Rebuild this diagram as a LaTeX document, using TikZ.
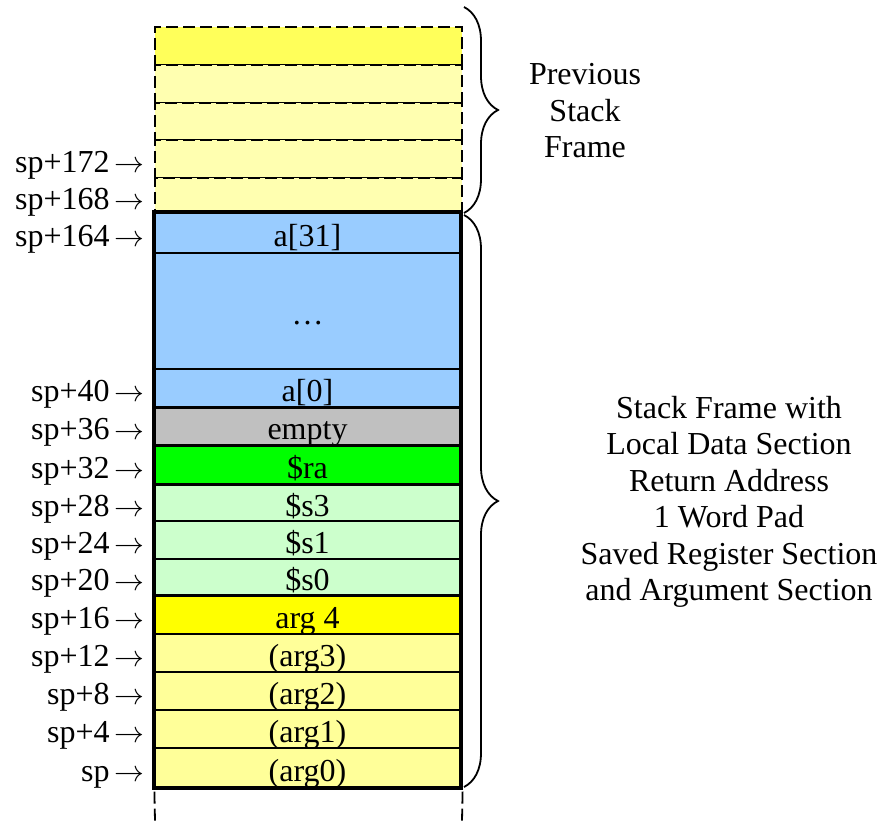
\documentclass[tikz,border=0pt]{standalone}
\usepackage{fontspec}
\setmainfont{Liberation Serif}
\usetikzlibrary{decorations.pathreplacing}
\definecolor{cblue}{HTML}{99CCFF}
\definecolor{cgray}{HTML}{C0C0C0}
\definecolor{cgreen}{HTML}{00FF00}
\definecolor{clgreen}{HTML}{CCFFCC}
\definecolor{cyel}{HTML}{FFFF00}
\definecolor{clyel}{HTML}{FFFF99}
\definecolor{ptop}{HTML}{FFFF5A}
\definecolor{prow}{HTML}{FFFFB0}
\newcommand{\arw}{\,\scalebox{1.2}{$\rightarrow$}}
\begin{document}
\begin{tikzpicture}[x=1pt,y=-1pt,
  bigfont/.style={font=\fontsize{32}{36.5}\selectfont},
  cell/.style={bigfont, draw=black, line width=1.2pt, minimum width=305pt, inner sep=0pt, text height=27pt, text depth=0pt},
  prevcell/.style={draw=black, line width=1.8pt, dash pattern=on 12pt off 5pt, minimum width=307pt, inner sep=0pt},
  lab/.style={bigfont, anchor=east, inner sep=0pt, text height=27pt, text depth=0pt},
  sep/.style={line width=3pt},
  dashline/.style={line width=1.8pt, dash pattern=on 12pt off 5pt},
  bracestyle/.style={decorate, decoration={brace, amplitude=34pt}, line width=1.8pt}
]
\useasboundingbox (0,0) rectangle (883,821);
% previous stack frame
\node[prevcell, fill=ptop, minimum height=38pt] (p1) at (308.5,46) {};
\node[prevcell, fill=prow, minimum height=38pt] (p2) at (308.5,84) {};
\node[prevcell, fill=prow, minimum height=37pt] (p3) at (308.5,121.5) {};
\node[prevcell, fill=prow, minimum height=38pt] (p4) at (308.5,159) {};
\node[prevcell, fill=prow, minimum height=35pt] (p5) at (308.5,195.5) {};
% current frame cells
\node[cell, fill=cblue, minimum height=40pt] (a31) at (307.5,233) {a[31]};
\node[cell, fill=cblue, minimum height=116pt] (dots) at (307.5,311) {\dots};
\node[cell, fill=cblue, minimum height=38pt] (a0) at (307.5,388) {a[0]};
\node[cell, fill=cgray, minimum height=38pt] (empty) at (307.5,426) {empty};
\node[cell, fill=cgreen, minimum height=39pt] (ra) at (307.5,464.5) {\$ra};
\node[cell, fill=clgreen, minimum height=37pt] (s3) at (307.5,502.5) {\$s3};
\node[cell, fill=clgreen, minimum height=38pt] (s1) at (307.5,540) {\$s1};
\node[cell, fill=clgreen, minimum height=36pt] (s0) at (307.5,577) {\$s0};
\node[cell, fill=cyel, minimum height=39pt] (arg4) at (307.5,614.5) {arg 4};
\node[cell, fill=clyel, minimum height=38pt] (arg3) at (307.5,653) {(arg3)};
\node[cell, fill=clyel, minimum height=38pt] (arg2) at (307.5,691) {(arg2)};
\node[cell, fill=clyel, minimum height=38pt] (arg1) at (307.5,729) {(arg1)};
\node[cell, fill=clyel, minimum height=39pt] (arg0) at (307.5,767.5) {(arg0)};
% thick separators and frame
\draw[sep] (a0.south west) -- (a0.south east);
\draw[sep] (empty.south west) -- (empty.south east);
\draw[sep] (ra.south west) -- (ra.south east);
\draw[sep] (s0.south west) -- (s0.south east);
\draw[line width=4pt] (a31.north west) rectangle (arg0.south east);
% dashed continuation below
\coordinate (bl) at (155,821);
\coordinate (br) at (462,821);
\draw[dashline] ([yshift=-4pt]arg0.south west) -- (bl);
\draw[dashline] ([xshift=2pt,yshift=-4pt]arg0.south east) -- (br);
% address labels
\node[lab] (l172) at (145,159) {sp+172\arw};
\node[lab] (l168) at (145,195.5) {sp+168\arw};
\node[lab] (l164) at (145,233) {sp+164\arw};
\node[lab] (l40) at (145,388) {sp+40\arw};
\node[lab] (l36) at (145,426) {sp+36\arw};
\node[lab] (l32) at (145,464.5) {sp+32\arw};
\node[lab] (l28) at (145,502.5) {sp+28\arw};
\node[lab] (l24) at (145,540) {sp+24\arw};
\node[lab] (l20) at (145,577) {sp+20\arw};
\node[lab] (l16) at (145,614.5) {sp+16\arw};
\node[lab] (l12) at (145,653) {sp+12\arw};
\node[lab] (l8) at (145,691) {sp+8\arw};
\node[lab] (l4) at (145,729) {sp+4\arw};
\node[lab] (l0) at (145,767.5) {sp\arw};
% braces
\coordinate (b1t) at (464,7);
\coordinate (b1b) at (464,213);
\coordinate (b2t) at (464,215);
\coordinate (b2b) at (464,787);
\draw[bracestyle] (b1t) -- (b1b);
\draw[bracestyle] (b2t) -- (b2b);
% descriptions
\node[bigfont, align=center] (prevtxt) at (585,111) {Previous\\Stack\\Frame};
\node[bigfont, align=center] (frametxt) at (729,502) {Stack Frame with\\Local Data Section\\Return Address\\1 Word Pad\\Saved Register Section\\and Argument Section};
\end{tikzpicture}
\end{document}
